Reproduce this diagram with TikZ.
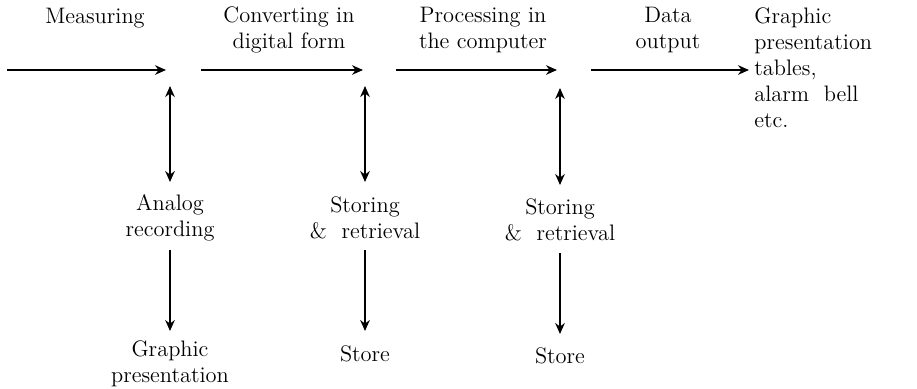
\documentclass[tikz,border=0pt]{standalone}
\usetikzlibrary{arrows.meta}
\begin{document}
\begin{tikzpicture}[x=0.5pt,y=-0.5pt,
  lbl/.style={inner sep=0pt,align=center,font=\fontsize{11.2}{12.8}\selectfont},
  lbll/.style={inner sep=0pt,align=left,anchor=north west,font=\fontsize{11.2}{13}\selectfont},
  flow/.style={line width=0.65pt,-{Stealth[length=5.5pt,width=4.8pt]}},
  dbl/.style={line width=0.65pt,{Stealth[length=5.5pt,width=4.8pt]}-{Stealth[length=5.5pt,width=4.8pt]}}]
\useasboundingbox (0,0) rectangle (917,388);
% top labels
\node[lbl] (meas) at (95,18) {Measuring};
\node[lbl] (conv) at (289,30) {Converting in\\digital form};
\node[lbl] (proc) at (483,30) {Processing in\\the computer};
\node[lbl] (outp) at (668,30) {Data\\output};
\node[lbll] (res) at (754,7) {Graphic\\presentation\\tables,\\alarm~~bell\\etc.};
% lower labels
\node[lbl] (ana) at (170,218) {Analog\\recording};
\node[lbl] (st1) at (365,218) {Storing\\\&~~retrieval};
\node[lbl] (st2) at (560,220) {Storing\\\&~~retrieval};
\node[lbl] (gp) at (170,364) {Graphic\\presentation};
\node[lbl] (sto1) at (365,354) {Store};
\node[lbl] (sto2) at (560,356) {Store};
% horizontal flow
\coordinate (a0) at (7,70);   \coordinate (a1) at (166,70);
\coordinate (b0) at (201,70); \coordinate (b1) at (363,70);
\coordinate (c0) at (396,70); \coordinate (c1) at (557,70);
\coordinate (d0) at (591,70); \coordinate (d1) at (749,70);
\draw[flow] (a0) -- (a1);
\draw[flow] (b0) -- (b1);
\draw[flow] (c0) -- (c1);
\draw[flow] (d0) -- (d1);
% vertical double arrows
\coordinate (j1) at (170,86); \coordinate (k1) at (170,182);
\coordinate (j2) at (365,86); \coordinate (k2) at (365,182);
\coordinate (j3) at (560,88); \coordinate (k3) at (560,185);
\draw[dbl] (j1) -- (k1);
\draw[dbl] (j2) -- (k2);
\draw[dbl] (j3) -- (k3);
% downward arrows
\coordinate (e1) at (170,250); \coordinate (f1) at (170,331);
\coordinate (e2) at (365,250); \coordinate (f2) at (365,331);
\coordinate (e3) at (560,253); \coordinate (f3) at (560,334);
\draw[flow] (e1) -- (f1);
\draw[flow] (e2) -- (f2);
\draw[flow] (e3) -- (f3);
\end{tikzpicture}
\end{document}
